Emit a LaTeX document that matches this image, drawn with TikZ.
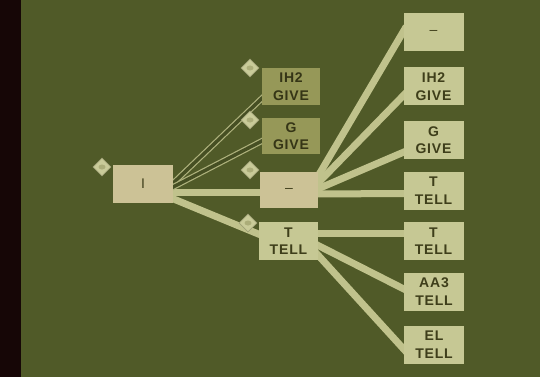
\documentclass[tikz,border=0pt]{standalone}
\usepackage{fontspec}
\setmainfont{Liberation Sans}[LetterSpace=6]
\usetikzlibrary{shapes.geometric,calc}
\pgfdeclarelayer{bg}
\pgfsetlayers{bg,main}
\definecolor{bgc}{RGB}{80,90,40}
\definecolor{strip}{RGB}{22,6,6}
\definecolor{boxc}{RGB}{198,200,148}
\definecolor{boxb}{RGB}{204,194,150}
\definecolor{boxd}{RGB}{150,152,88}
\definecolor{txt}{RGB}{62,62,26}
\definecolor{bandc}{RGB}{192,194,140}
\tikzset{
  x=1pt, y=-1pt,
  box/.style={rectangle, fill=boxc, minimum width=60pt, minimum height=38pt, inner sep=0pt,
    align=center, text=txt, font=\bfseries\fontsize{14}{17.5}\selectfont},
  dimbox/.style={box, fill=boxd, text=txt!85!black},
  band/.style={draw=bandc, line width=7pt, line cap=butt},
  thinband/.style={draw=bandc!85!bgc, line width=1.2pt, double=bgc!88!black, double distance=3.5pt},
  dia/.style={diamond, fill=boxc!95!white, draw=boxc!80!black, line width=0.6pt,
    minimum width=18pt, minimum height=18pt, inner sep=0pt},
  dot/.style={ellipse, fill=boxd!80!white, minimum width=7pt, minimum height=5pt, inner sep=0pt},
  dashmark/.style={font=\mdseries\fontsize{14}{17}\selectfont}
}
\begin{document}
\begin{tikzpicture}
\begin{pgfonlayer}{bg}
  \fill[bgc] (0,0) rectangle (540,377);
  \fill[strip] (0,0) rectangle (21,377);
\end{pgfonlayer}
% left and middle nodes
\node[box, fill=boxb, minimum width=60pt, font=\mdseries\fontsize{14}{17}\selectfont] (I) at (143,184) {I};
\node[dimbox, minimum width=58pt, minimum height=37pt] (ig) at (291,86.5) {IH2\\GIVE};
\node[dimbox, minimum width=58pt, minimum height=36pt] (gg) at (291,136) {G\\GIVE};
\node[box, fill=boxb, minimum width=58pt, minimum height=36pt, dashmark] (md) at (289,190) {–};
\node[box, minimum width=59pt] (tt) at (288.5,241) {T\\TELL};
% right column
\node[box, dashmark] (r1) at (433.5,32.5) {–};
\node[box] (r2) at (433.5,86.5) {IH2\\GIVE};
\node[box] (r3) at (433.5,140) {G\\GIVE};
\node[box] (r4) at (433.5,190.5) {T\\TELL};
\node[box] (r5) at (433.5,241) {T\\TELL};
\node[box] (r6) at (434,291.5) {AA3\\TELL};
\node[box] (r7) at (434,344.5) {EL\\TELL};
% diamonds
\node[dia] (d0) at (102,167) {}; \node[dot] at (d0) {};
\node[dia] (d1) at (250,68) {};  \node[dot] at (d1) {};
\node[dia] (d2) at (250,120) {}; \node[dot] at (d2) {};
\node[dia] (d3) at (250,170) {}; \node[dot] at (d3) {};
\node[dia] (d4) at (248,223) {}; \node[dot] at (d4) {};
% connectors
\begin{pgfonlayer}{bg}
  \draw[band] ($(I.east)+(-2,8)$) -- ($(md.west)+(2,2)$);
  \draw[band] ($(I.east)+(-2,14)$) -- ($(tt.west)+(2,-6)$);
  \draw[thinband] ($(I.east)+(-2,1)$) -- ($(ig.west)+(2,10)$);
  \draw[thinband] ($(I.east)+(-2,4)$) -- ($(gg.west)+(2,4)$);
  \draw[band] ($(md.east)+(-3,-9)$) -- ($(r1.west)+(3,-6)$);
  \draw[band] ($(md.east)+(-3,-4)$) -- ($(r2.west)+(3,6)$);
  \draw[band] ($(md.east)+(-3,0)$) -- ($(r3.west)+(3,11)$);
  \draw[band] ($(md.east)+(-3,4)$) -- ($(r4.west)+(3,3)$);
  \draw[band] ($(tt.east)+(-3,-8)$) -- ($(r5.west)+(3,-8)$);
  \draw[band] ($(tt.east)+(-3,3)$) -- ($(r6.west)+(3,-1)$);
  \draw[band] ($(tt.east)+(-3,11)$) -- ($(r7.west)+(3,8)$);
\end{pgfonlayer}
\end{tikzpicture}
\end{document}
